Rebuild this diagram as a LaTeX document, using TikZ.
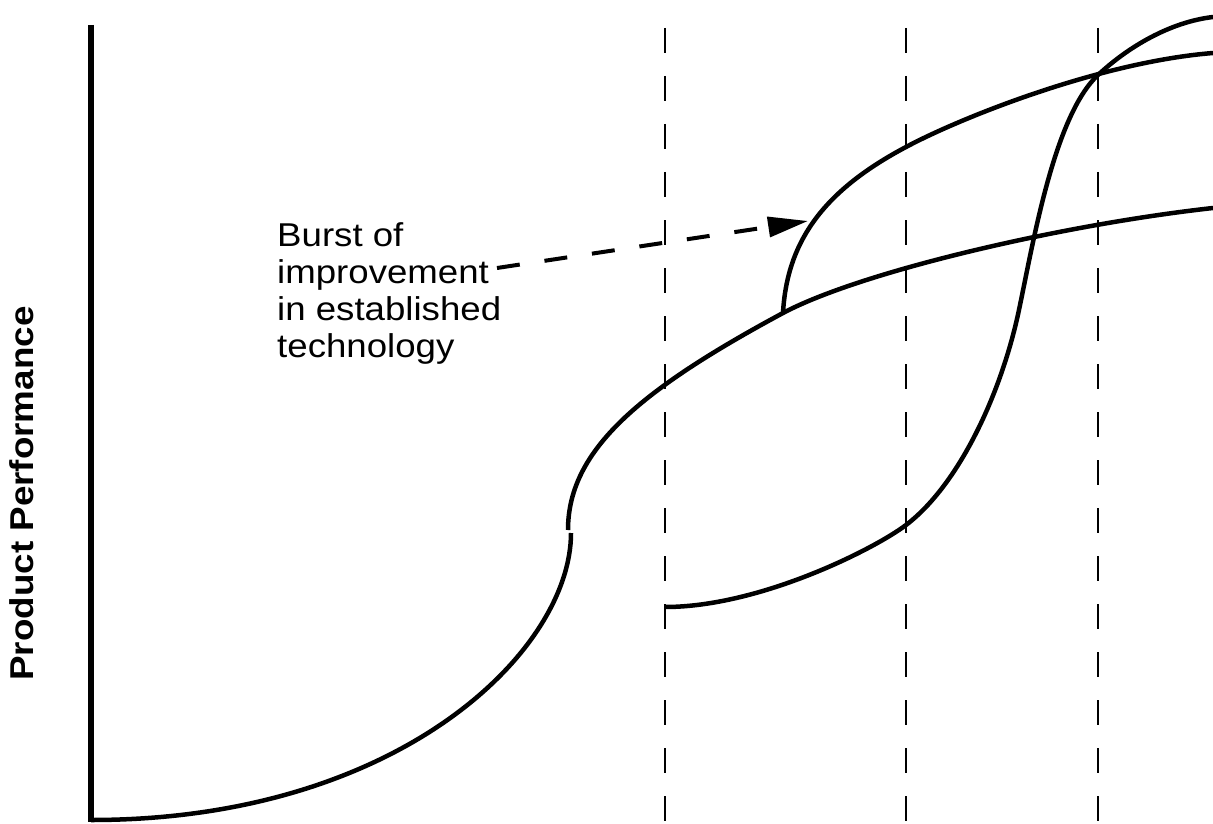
\documentclass[tikz,border=0pt]{standalone}
\usepackage{fontspec}
\setmainfont{Liberation Sans}
\newfontfamily\lblfont[FakeStretch=1.11]{Liberation Sans}
\newfontfamily\ylblfont[FakeStretch=1.115]{Liberation Sans}
\usetikzlibrary{arrows.meta}
\begin{document}
\begin{tikzpicture}[x=1pt,y=-1pt,
  curve/.style={line width=4.5pt, line join=round},
  axisline/.style={line width=5.5pt},
  period/.style={line width=2.5pt, dash pattern=on 25pt off 23pt},
  burstarrow/.style={line width=4pt, dash pattern=on 23pt off 25pt, -{Triangle[length=40pt,width=20pt]}},
  lbl/.style={font=\lblfont\fontsize{33}{37}\selectfont, align=left, inner sep=0pt},
  ylbl/.style={font=\ylblfont\bfseries\fontsize{33}{40}\selectfont, rotate=90, inner sep=0pt}]
\useasboundingbox (0,0) rectangle (1213,824);
% period boundaries
\draw[period] (665,28) -- (665,821);
\draw[period] (906,28) -- (906,821);
\draw[period] (1098,28) -- (1098,821);
% axis
\draw[axisline] (91,25) -- (91,822);
% established technology S-curve (lower part)
\draw[curve] (91,820) .. controls (400,820) and (571,650) .. (571,533);
% established technology (upper part)
\coordinate (branch) at (783,313);
\draw[curve] (568,530) .. controls (568,450) and (640,390) .. (branch)
  .. controls (860,272) and (1060,225) .. (1213,208);
% burst of improvement
\coordinate (burstmid) at (906,147);
\draw[curve] (branch) .. controls (787,240) and (825,190) .. (burstmid)
  .. controls (960,118) and (1100,62) .. (1213,53);
% new technology S-curve
\draw[curve] (665,607) .. controls (760,607) and (875,548.6) .. (906,525)
  .. controls (960,484) and (1003,390) .. (1020,305)
  .. controls (1034,238) and (1055,115) .. (1098,75)
  .. controls (1128,47) and (1170,22) .. (1213,17);
% labels
\node[lbl, anchor=north west] (burstlbl) at (277,222.5) {Burst of\\improvement\\in established\\technology};
\node[ylbl] (ylabel) at (21.5,493.5) {Product Performance};
% arrow
\coordinate (arrowstart) at (497,268);
\coordinate (burstpt) at (808,221);
\draw[burstarrow] (arrowstart) -- (burstpt);
\end{tikzpicture}
\end{document}
